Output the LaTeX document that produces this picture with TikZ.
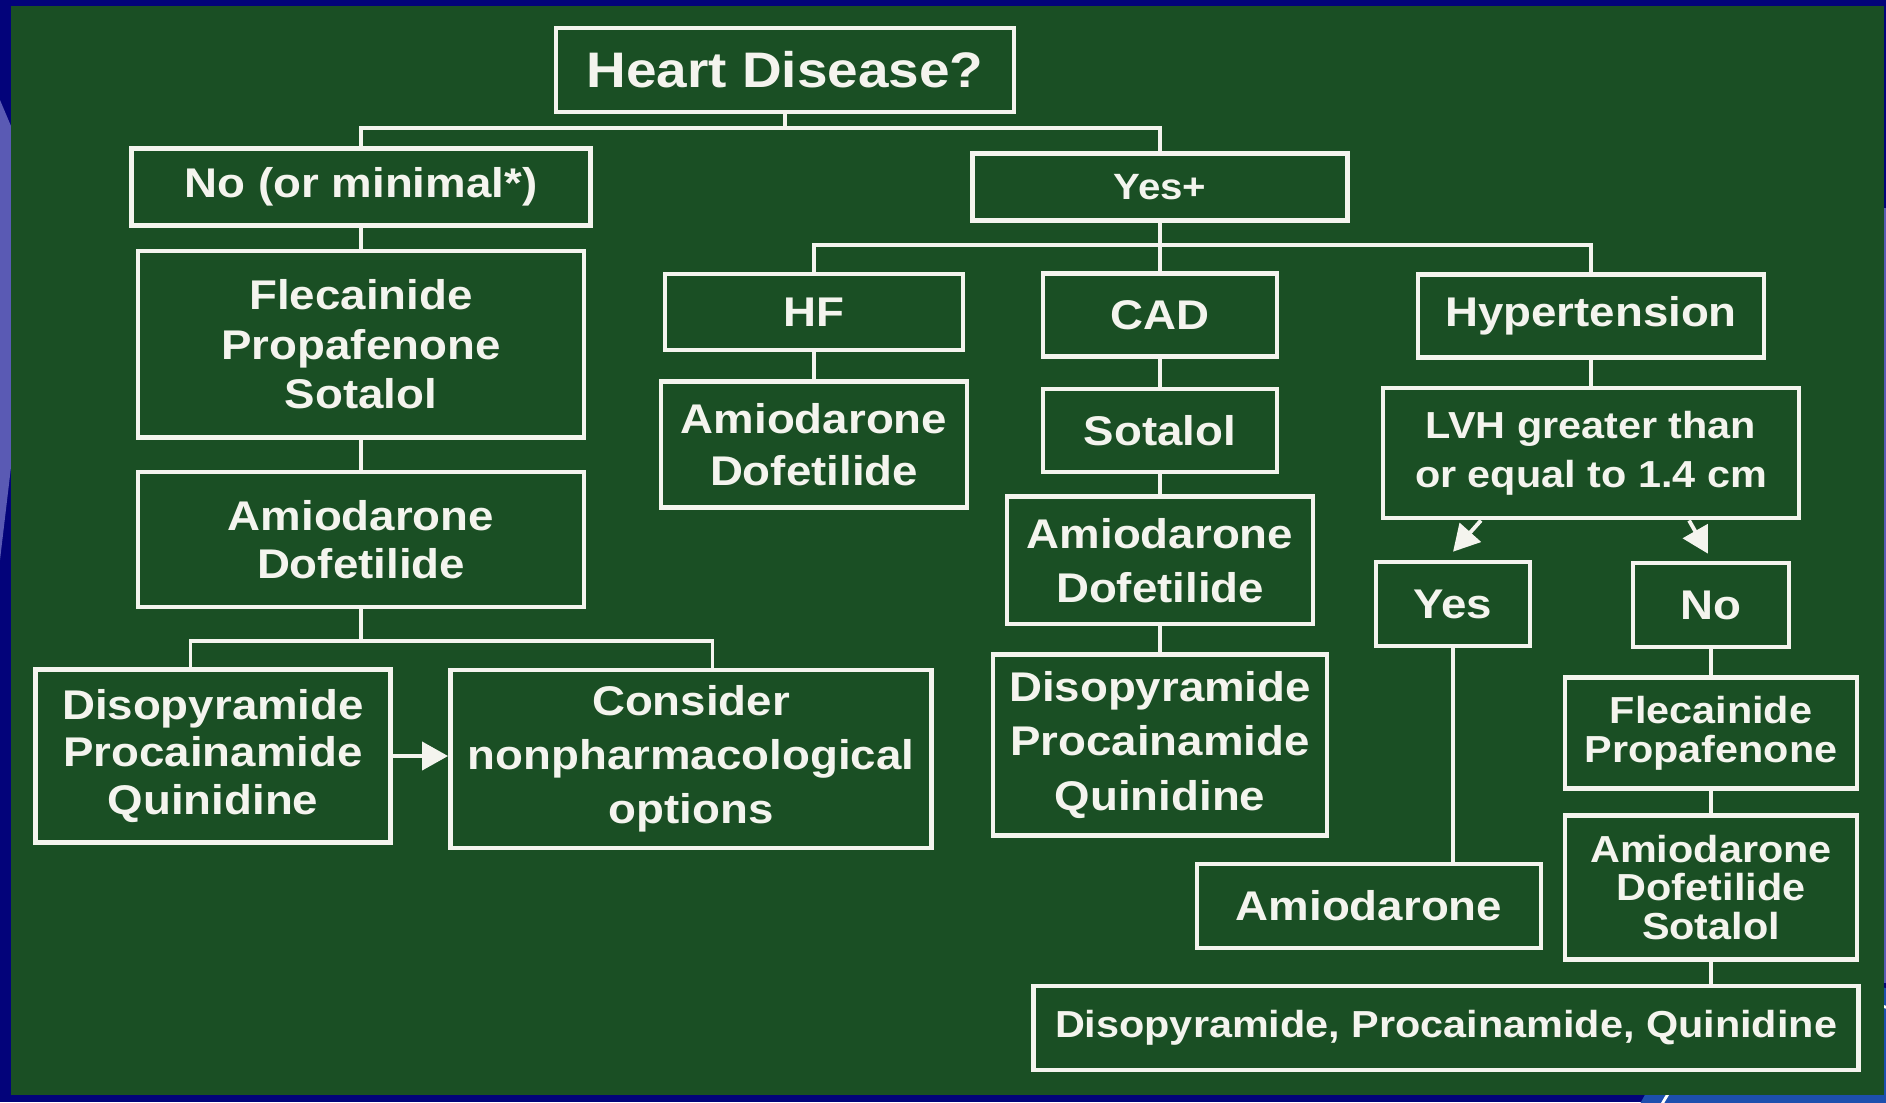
\documentclass[tikz,border=0pt]{standalone}
\usepackage{fontspec}
\setmainfont[FakeStretch=1.1]{Liberation Sans}
\usetikzlibrary{arrows.meta, positioning, calc}
\definecolor{hdgreen}{HTML}{1A4F24}
\definecolor{hdnavy}{HTML}{03037A}
\definecolor{hdlilac}{HTML}{5A5AB4}
\definecolor{hdchalk}{HTML}{F4F4EE}
\definecolor{hdlogo}{HTML}{1D4FAE}
\tikzset{
  drug/.style={rectangle, draw=hdchalk, line width=1.3pt, text=hdchalk, inner sep=0pt,
    align=center, font=\bfseries\fontsize{11.8}{14.5}\selectfont},
  smalldrug/.style={drug, font=\bfseries\fontsize{10.7}{11.2}\selectfont},
  conn/.style={draw=hdchalk, line width=1.1pt},
  arr/.style={conn, -{Triangle[length=2.6mm, width=2.8mm]}},
}

\begin{document}
\begin{tikzpicture}[x=0.01cm, y=-0.01cm]
    \useasboundingbox (0,0) rectangle (1886,1102);
    % slide background
    \fill[hdnavy] (0,0) rectangle (1886,1102);
    \fill[hdlilac] (0,100) -- (11,126) -- (11,467) -- (0,560) -- cycle;
    \fill[hdlilac] (1876,208) rectangle (1886,983);
    \begin{scope}
      \clip (0,0) rectangle (1886,1102);
      \fill[hdlogo] (1830,1230) ellipse [x radius=220, y radius=250];
      \draw[white, line width=0.8pt] (1830,1230) ellipse [x radius=200, y radius=232];
    \end{scope}
    \fill[hdgreen] (11,6) rectangle (1884,1095);

    \node[drug, minimum width=4.58cm, minimum height=0.84cm, font=\bfseries\fontsize{14.2}{16}\selectfont] (heart) at (785,70) {Heart Disease?};
    \node[drug, minimum width=4.59cm, minimum height=0.77cm] (nomin) at (361,187) {No (or minimal*)};
    \node[drug, minimum width=3.75cm, minimum height=0.67cm, font=\bfseries\fontsize{10.4}{12}\selectfont] (yesplus) at (1160,187) {Yes+};

    % no or minimal heart disease
    \node[drug, below=0.21cm of nomin, minimum width=4.46cm, minimum height=1.86cm, font=\bfseries\fontsize{11.8}{14}\selectfont] (lflec) {Flecainide\\Propafenone\\Sotalol};
    \node[drug, below=0.30cm of lflec, minimum width=4.46cm, minimum height=1.35cm, font=\bfseries\fontsize{11.8}{13.7}\selectfont] (lamio) {Amiodarone\\Dofetilide};
    \node[drug, minimum width=3.55cm, minimum height=1.73cm, font=\bfseries\fontsize{11.8}{13.4}\selectfont] (ldiso) at (213,756) {Disopyramide\\Procainamide\\Quinidine};
    \node[drug, minimum width=4.81cm, minimum height=1.78cm, font=\bfseries\fontsize{11.8}{15.4}\selectfont] (consider) at (691,759) {Consider\\nonpharmacological\\options};

    % structural heart disease
    \node[drug, minimum width=2.98cm, minimum height=0.76cm] (hf) at (814,312) {HF};
    \node[drug, below=0.27cm of hf, minimum width=3.06cm, minimum height=1.26cm, font=\bfseries\fontsize{11.8}{15}\selectfont] (hfamio) {Amiodarone\\Dofetilide};
    \node[drug, minimum width=2.34cm, minimum height=0.83cm] (cad) at (1160,315) {CAD};
    \node[drug, below=0.28cm of cad, minimum width=2.34cm, minimum height=0.83cm] (sotalol) {Sotalol};
    \node[drug, below=0.20cm of sotalol, minimum width=3.06cm, minimum height=1.27cm, font=\bfseries\fontsize{11.8}{15.4}\selectfont] (cadamio) {Amiodarone\\Dofetilide};
    \node[drug, below=0.26cm of cadamio, minimum width=3.34cm, minimum height=1.81cm, font=\bfseries\fontsize{11.8}{15.4}\selectfont] (caddiso) {Disopyramide\\Procainamide\\Quinidine};
    \node[drug, minimum width=3.46cm, minimum height=0.83cm] (hyper) at (1591,316) {Hypertension};
    \node[smalldrug, below=0.26cm of hyper, minimum width=4.16cm, minimum height=1.30cm, font=\bfseries\fontsize{10.7}{14}\selectfont] (lvh) {LVH greater than\\or equal to 1.4 cm};
    \node[drug, minimum width=1.54cm, minimum height=0.84cm] (ryes) at (1453,604) {Yes};
    \node[drug, minimum width=1.56cm, minimum height=0.84cm] (rno) at (1711,605) {No};
    \node[drug, minimum width=3.44cm, minimum height=0.84cm] (ramio) at (1369,906) {Amiodarone};
    \node[smalldrug, below=0.26cm of rno, minimum width=2.92cm, minimum height=1.11cm] (rflec) {Flecainide\\Propafenone};
    \node[smalldrug, below=0.22cm of rflec, minimum width=2.92cm, minimum height=1.44cm, font=\bfseries\fontsize{10.7}{10.9}\selectfont] (rads) {Amiodarone\\Dofetilide\\Sotalol};
    \node[smalldrug, minimum width=8.24cm, minimum height=0.84cm] (bottom) at (1446,1028) {Disopyramide, Procainamide, Quinidine};

    % tree lines
    \draw[conn] (heart.south) -- ++(0,14) coordinate (hj);
    \draw[conn] (nomin.north) |- (hj) -| (yesplus.north);
    \draw[conn] (lamio.south) -- ++(0,32) coordinate (lj);
    \draw[conn] ([xshift=-0.225cm]ldiso.north) |- (lj) -| ([xshift=0.215cm]consider.north);
    \draw[conn] (yesplus.south) -- ++(0,22) coordinate (yj);
    \draw[conn] (hf.north) |- (yj) -| (hyper.north);
    \draw[conn] (yj) -- (cad.north);
    \foreach \a/\b in {nomin/lflec, lflec/lamio, hf/hfamio, cad/sotalol, sotalol/cadamio,
        cadamio/caddiso, hyper/lvh, rno/rflec, rflec/rads}
      \draw[conn] (\a) -- (\b);
    \draw[conn] (ryes.south) -- (ryes.south |- ramio.north);
    \draw[conn] (rads.south) -- (rads.south |- bottom.north);

    % arrows
    \draw[arr] (ldiso.east) -- (ldiso.east -| consider.west);
    \draw[arr] ([xshift=-1.1cm]lvh.south) -- ([yshift=0.08cm]ryes.north);
    \draw[arr] ([xshift=0.98cm]lvh.south) -- ([xshift=-0.03cm, yshift=0.07cm]rno.north);
\end{tikzpicture}
\end{document}
